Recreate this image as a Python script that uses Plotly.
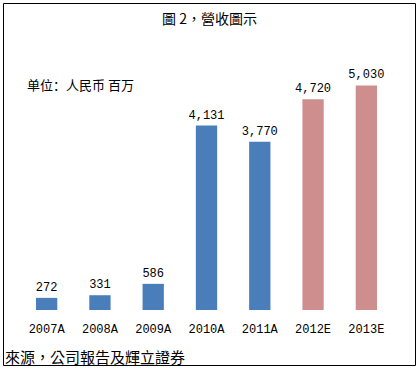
import plotly.graph_objects as go

categories = ["2007A", "2008A", "2009A", "2010A", "2011A", "2012E", "2013E"]
revenue = [272, 331, 586, 4131, 3770, 4720, 5030]
is_estimate = [False, False, False, False, False, True, True]

BLUE = "#4a7ebb"
PINK = "#cf8e8e"
colors = [PINK if e else BLUE for e in is_estimate]

W, H = 420, 368
L, R, T, B = 20, 27, 60, 58
pw, ph = W - L - R, H - T - B

def px_x(x):
    return (x - L) / pw

def px_y(y):
    return (H - B - y) / ph

num_font = dict(family="Liberation Mono, DejaVu Sans Mono, monospace", size=12, color="#000000")
cjk = "Noto Sans CJK TC, Noto Sans CJK SC, sans-serif"

fig = go.Figure(go.Bar(
    x=categories, y=revenue,
    marker=dict(color=colors, line=dict(width=0)),
    text=[f"{v:,}" for v in revenue],
    textposition="outside",
    textfont=num_font,
    constraintext="none",
    cliponaxis=False,
    width=0.4,
    hoverinfo="skip",
))

fig.update_layout(
    width=W, height=H,
    margin=dict(l=L, r=R, t=T, b=B, autoexpand=False),
    paper_bgcolor="white", plot_bgcolor="white",
    showlegend=False,
    xaxis=dict(showgrid=False, showline=False, zeroline=False, ticks="",
               tickfont=num_font, automargin=False, ticklabelstandoff=10),
    yaxis=dict(range=[0, 5600], visible=False, showgrid=False, zeroline=False,
               automargin=False),
    shapes=[dict(type="rect", xref="paper", yref="paper",
                 x0=px_x(3.5), x1=px_x(415.5), y0=px_y(365.5), y1=px_y(3.5),
                 line=dict(color="#000000", width=1))],
    annotations=[
        dict(text="圖 2，營收圖示", xref="paper", yref="paper",
             x=px_x(209), y=px_y(18), xanchor="center", yanchor="middle",
             showarrow=False,
             font=dict(family=cjk, size=14, color="#000")),
        dict(text="单位：人民币 百万", xref="paper", yref="paper",
             x=px_x(25), y=px_y(84), xanchor="left", yanchor="middle",
             showarrow=False,
             font=dict(family="Noto Sans CJK SC, sans-serif", size=13, color="#000")),
        dict(text="來源，公司報告及輝立證券", xref="paper", yref="paper",
             x=px_x(3), y=px_y(356), xanchor="left", yanchor="middle",
             showarrow=False,
             font=dict(family=cjk, size=15, color="#000")),
    ],
)

fig.write_html("out.html",
               config={"displayModeBar": False, "staticPlot": True},
               post_script="document.body.style.margin='0';document.body.style.padding='0';")
